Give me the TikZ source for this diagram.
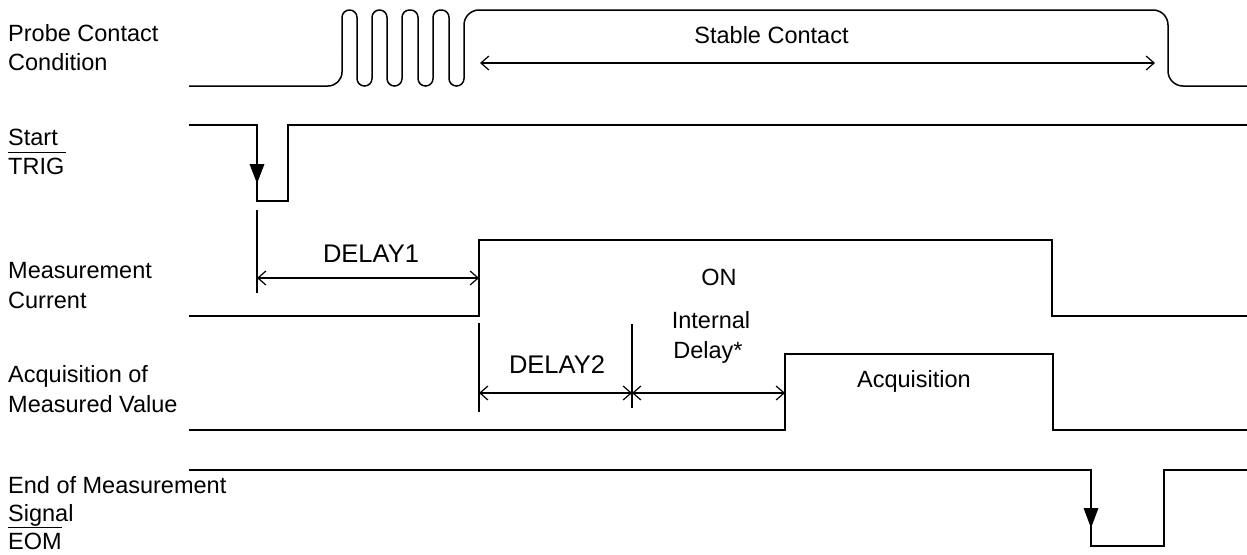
\documentclass[tikz,border=0pt]{standalone}
\usepackage{fontspec}
\setmainfont{Liberation Sans}
\usetikzlibrary{arrows.meta}
\tikzset{
  sig/.style={line width=1.5pt, line join=miter},
  ext/.style={line width=1.2pt},
  dim/.style={line width=1.2pt, {Straight Barb[length=8pt,width=14pt]}-{Straight Barb[length=8pt,width=14pt]}},
  lbl/.style={anchor=base west, inner sep=0pt, font=\fontsize{23.5}{28.5}\selectfont},
  txt/.style={anchor=base, inner sep=0pt, font=\fontsize{23.5}{28.5}\selectfont},
  dtxt/.style={anchor=base, inner sep=0pt, font=\fontsize{25.5}{30}\selectfont},
  tri/.style={fill=black}
}
\begin{document}
\begin{tikzpicture}[x=1pt,y=-1pt]
\useasboundingbox (0,0) rectangle (1247,554);
% left labels
\node[lbl] (l1a) at (8,41.5) {Probe Contact};
\node[lbl] (l1b) at (8,70) {Condition};
\node[lbl] (l2a) at (8,145) {Start};
\node[lbl] (l2b) at (8,174) {TRIG};
\draw[line width=1.6pt] (8,152.3) -- (65.5,152.3);
\node[lbl] (l3a) at (8,278) {Measurement};
\node[lbl] (l3b) at (8,308) {Current};
\node[lbl] (l4a) at (8,382) {Acquisition of};
\node[lbl] (l4b) at (8,412) {Measured Value};
\node[lbl] (l5a) at (8,493) {End of Measurement};
\node[lbl] (l5b) at (8,521.5) {Signal};
\node[lbl] (l5c) at (8,549.5) {EOM};
\draw[line width=1.6pt] (8,527.5) -- (61.5,527.5);
% probe contact
\draw[sig, rounded corners=14pt] (189,86) -- (342,86) -- (342,48);
\draw[sig, rounded corners=7.4pt] (342,48) -- (342,10) -- (357,10) -- (357,86) -- (372,86) -- (372,10) -- (387,10) -- (387,86) -- (402,86) -- (402,10) -- (418,10) -- (418,86) -- (433,86) -- (433,10) -- (449,10) -- (449,86) -- (464,86) -- (464,48);
\draw[sig, rounded corners=15pt] (464,48) -- (464,10) -- (1168,10) -- (1168,86) -- (1247,86);
\coordinate (sA) at (480,63);
\coordinate (sB) at (1155,63);
\draw[dim] (sA) -- (sB);
\node[txt] (stable) at (771.5,43) {Stable Contact};
% TRIG
\draw[sig] (189,125) -- (257,125) -- (257,201) -- (288,201) -- (288,125) -- (1247,125);
\fill[tri] (249.5,164) -- (264.5,164) -- (257,183.5) -- cycle;
\draw[ext] (257,210) -- (257,293);
% measurement current
\draw[sig] (189,316) -- (479,316) -- (479,240) -- (1052,240) -- (1052,316) -- (1247,316);
\draw[ext] (479,323) -- (479,412);
\coordinate (d1a) at (257,278);
\coordinate (d1b) at (479,278);
\draw[dim] (d1a) -- (d1b);
\node[dtxt] (delay1) at (371,262) {DELAY1};
\node[txt] (on) at (719,285) {ON};
% acquisition
\draw[sig] (189,430) -- (785,430) -- (785,354) -- (1053,354) -- (1053,430) -- (1247,430);
\draw[ext] (632,324) -- (632,408);
\coordinate (d2a) at (479,393);
\coordinate (d2b) at (632,393);
\coordinate (d3b) at (785,393);
\draw[dim] (d2a) -- (d2b);
\draw[dim] (d2b) -- (d3b);
\node[dtxt] (delay2) at (557,373) {DELAY2};
\node[txt] (int1) at (711,328) {Internal};
\node[txt] (int2) at (708,358) {Delay*};
\node[txt] (acq) at (914,387) {Acquisition};
% EOM
\draw[sig] (189,470) -- (1091,470) -- (1091,546) -- (1164,546) -- (1164,470) -- (1247,470);
\fill[tri] (1083.5,508) -- (1098.5,508) -- (1091,528) -- cycle;
\end{tikzpicture}
\end{document}
